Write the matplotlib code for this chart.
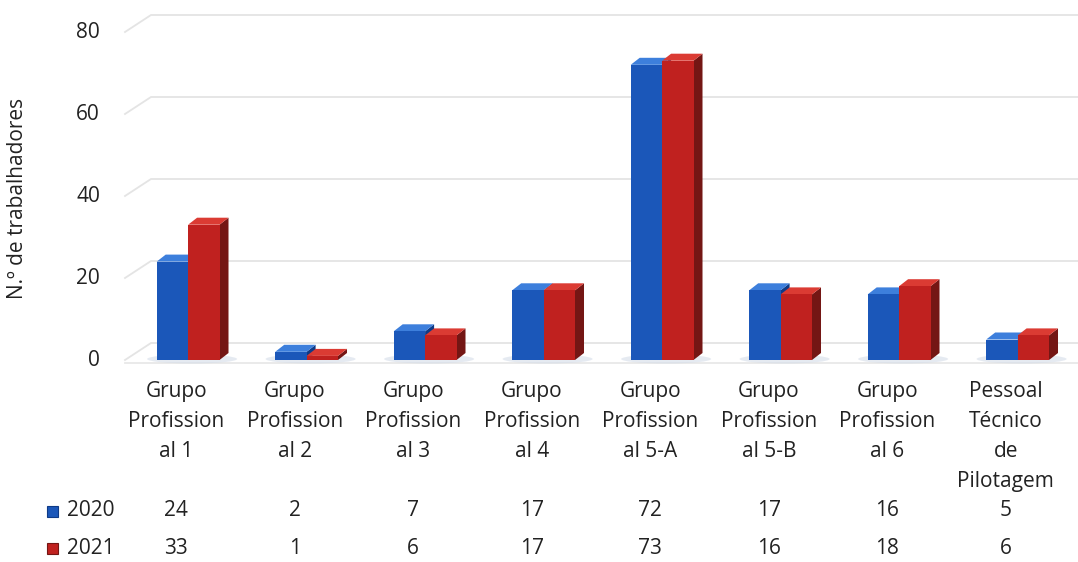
import matplotlib
matplotlib.use("Agg")
import matplotlib.pyplot as plt
from matplotlib.patches import Polygon, Rectangle, Ellipse
from matplotlib.transforms import blended_transform_factory
import matplotlib.transforms as mtransforms
import numpy as np

categories = ["Grupo\nProfission\nal 1", "Grupo\nProfission\nal 2", "Grupo\nProfission\nal 3",
              "Grupo\nProfission\nal 4", "Grupo\nProfission\nal 5-A", "Grupo\nProfission\nal 5-B",
              "Grupo\nProfission\nal 6", "Pessoal\nTécnico\nde\nPilotagem"]
series_names = ["2020", "2021"]
values_2020 = [24, 2, 7, 17, 72, 17, 16, 5]
values_2021 = [33, 1, 6, 17, 73, 16, 18, 6]
yticks = [0, 20, 40, 60, 80]
ylabel = "N.º de trabalhadores"

plt.rcParams['font.family'] = ['Open Sans', 'DejaVu Sans']
W, H = 1078, 562
fig = plt.figure(figsize=(W / 100, H / 100), dpi=100)
fig.patch.set_facecolor('white')

ax = fig.add_axes([117 / W, 1 - 360 / H, (1065 - 117) / W, (360 - 32) / H])
ax.set_xlim(-0.5, 7.5)
ax.set_ylim(0, 80)
ax.axis('off')

fs = 15
txt_col = '#222222'

front_cols = ['#1b57b9', '#c0211f']
top_cols = ['#3d7fdc', '#db3b33']
side_cols = ['#0e3a86', '#741614']
DX, DY = 9, 7

x = np.arange(len(categories))
bw = 0.265
off = 0.1
series = [values_2020, values_2021]

fig.canvas.draw()
T = ax.transData

# background gridlines (3D wall)
for t in yticks:
    p0 = T.transform((-0.5, t))
    p0[0] += 8
    pb = (p0[0] + 26, p0[1] + 17)
    pr = (W, pb[1])
    ax.add_line(plt.Line2D([p0[0], pb[0], pr[0]], [p0[1], pb[1], pr[1]], transform=None,
                           color='#e4e4e4', lw=1.3, zorder=0, clip_on=False))
p0 = T.transform((-0.5, 0))
ax.add_line(plt.Line2D([p0[0] + 8, W], [p0[1] - 3, p0[1] - 3], transform=None,
                       color='#e8e8e8', lw=1.3, zorder=0, clip_on=False))

# soft shadows on floor
for i in x:
    c = T.transform((i + off, 0))
    e = Ellipse((c[0] + 4, c[1] + 1), 90, 9, transform=None, facecolor='#d5dde9',
                edgecolor='none', alpha=0.6, zorder=1, clip_on=False)
    ax.add_patch(e)

for s, vals in enumerate(series):
    xs = x + off + (s - 0.5) * bw
    for xi, v in zip(xs, vals):
        x0, y0 = T.transform((xi - bw / 2, 0))
        x1, y1 = T.transform((xi + bw / 2, v))
        side = Polygon([(x1, y0), (x1, y1), (x1 + DX, y1 + DY), (x1 + DX, y0 + DY)],
                       closed=True, transform=None, facecolor=side_cols[s], edgecolor='none',
                       zorder=2 + s * 3, clip_on=False)
        top = Polygon([(x0, y1), (x1, y1), (x1 + DX, y1 + DY), (x0 + DX, y1 + DY)],
                      closed=True, transform=None, facecolor=top_cols[s], edgecolor='none',
                      zorder=3 + s * 3, clip_on=False)
        ax.add_patch(side)
        ax.add_patch(top)
    ax.bar(xs, vals, width=bw, color=front_cols[s], zorder=4 + s * 3, linewidth=0)

# y tick labels
ttrans = T + mtransforms.Affine2D().translate(-17, 0)
for t in yticks:
    ax.text(-0.5, t, str(t), transform=ttrans, ha='right', va='center', fontsize=fs,
            color=txt_col, zorder=10, clip_on=False)

fig.text(18 / W, 1 - 198 / H, ylabel, rotation=90, ha='center', va='center',
         fontsize=fs, color=txt_col)

bt = blended_transform_factory(ax.transData, fig.transFigure)
for i, lab in enumerate(categories):
    ax.text(i, 1 - 381 / H, lab, transform=bt, ha='center', va='top', fontsize=fs,
            color=txt_col, linespacing=1.57, clip_on=False)

row_y = [1 - 511 / H, 1 - 548 / H]
for s, vals in enumerate(series):
    for i, v in enumerate(vals):
        ax.text(i, row_y[s], str(v), transform=bt, ha='center', va='center', fontsize=fs,
                color=txt_col, clip_on=False)
    fig.text(115 / W, row_y[s], series_names[s], ha='right', va='center', fontsize=fs,
             color=txt_col)
    fig.patches.append(Rectangle((47 / W, row_y[s] - 6 / H), 11 / W, 11 / H,
                                 transform=fig.transFigure, facecolor=front_cols[s],
                                 edgecolor=side_cols[s], lw=0.8))

fig.savefig('out.png', dpi=100, facecolor='white')
